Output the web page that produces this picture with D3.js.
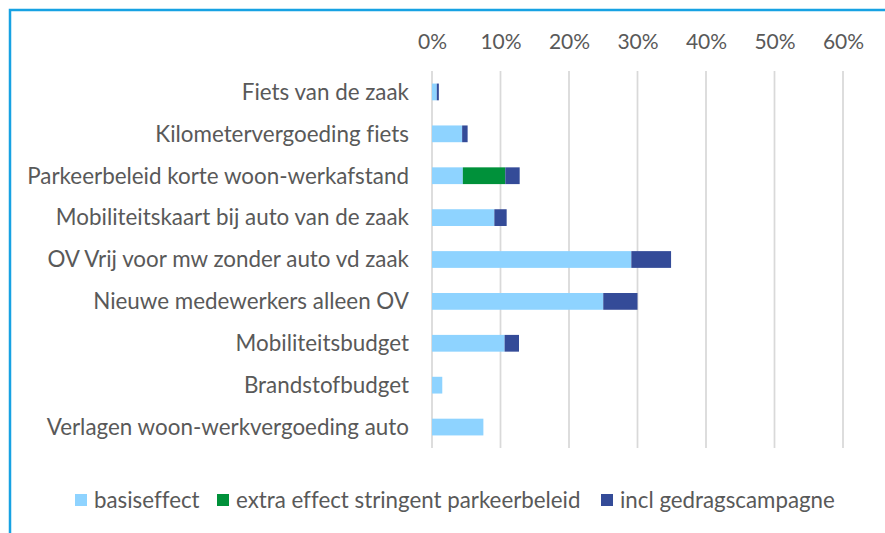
<!DOCTYPE html>
<html>
<head>
<meta charset="utf-8">
<script src="https://cdn.jsdelivr.net/npm/d3@7"></script>
<style>
  html, body { margin: 0; padding: 0; background: #fff; }
  svg text { font-family: Lato, 'Open Sans', sans-serif; fill: #595959; font-variant-ligatures: none; }
</style>
</head>
<body>
<svg id="chart" width="885" height="533"></svg>
<script>
const categories = [
  'Fiets van de zaak',
  'Kilometervergoeding fiets',
  'Parkeerbeleid korte woon-werkafstand',
  'Mobiliteitskaart bij auto van de zaak',
  'OV Vrij voor mw zonder auto vd zaak',
  'Nieuwe medewerkers alleen OV',
  'Mobiliteitsbudget',
  'Brandstofbudget',
  'Verlagen woon-werkvergoeding auto'
];
const basiseffect = [0.007, 0.044, 0.045, 0.091, 0.291, 0.250, 0.106, 0.015, 0.075];
const extraParkeer = [0, 0, 0.062, 0, 0, 0, 0, 0, 0];
const gedragscampagne = [0.003, 0.008, 0.021, 0.018, 0.058, 0.050, 0.021, 0, 0];
const seriesNames = ['basiseffect', 'extra effect stringent parkeerbeleid', 'incl gedragscampagne'];
const seriesColors = ['#8ED3FF', '#00913A', '#344B98'];
const tickValues = [0, 0.1, 0.2, 0.3, 0.4, 0.5, 0.6];

const width = 885, height = 533;
const margin = { top: 71, bottom: 448, left: 432, right: 843 };

const svg = d3.select('#chart');

// frame (left + top blue border)
svg.append('path')
  .attr('d', `M10,${height} L10,10 L${width},10`)
  .attr('fill', 'none')
  .attr('stroke', '#17A2E3')
  .attr('stroke-width', 2.5);

const data = categories.map((c, i) => ({
  cat: c,
  basiseffect: basiseffect[i],
  extra: extraParkeer[i],
  campagne: gedragscampagne[i]
}));

const keys = ['basiseffect', 'extra', 'campagne'];
const stack = d3.stack().keys(keys)(data);

const xScale = d3.scaleLinear().domain([0, 0.6]).range([margin.left, margin.right]);
const yScale = d3.scaleBand()
  .domain(categories)
  .range([margin.top, margin.bottom])
  .paddingInner(0.6)
  .paddingOuter(0.3);

// gridlines
svg.append('g')
  .selectAll('line')
  .data(tickValues)
  .join('line')
  .attr('x1', (d) => xScale(d))
  .attr('x2', (d) => xScale(d))
  .attr('y1', margin.top)
  .attr('y2', margin.bottom)
  .attr('stroke', '#D9D9D9')
  .attr('stroke-width', 1.75);

// top axis labels
const xAxis = (g) =>
  g.attr('transform', 'translate(0,42)')
    .call(d3.axisTop(xScale).tickValues(tickValues).tickFormat(d3.format('.0%')).tickSize(0).tickPadding(0));
const axisG = svg.append('g').attr('class', 'x-axis').call(xAxis);
axisG.select('.domain').remove();
axisG.selectAll('text')
  .attr('dy', '0.35em')
  .style('font-size', '21px')
  .attr('fill', '#595959');

// bars
svg.append('g')
  .selectAll('g')
  .data(stack)
  .join('g')
  .attr('fill', (d, i) => seriesColors[i])
  .selectAll('rect')
  .data((d) => d)
  .join('rect')
  .attr('x', (d) => xScale(d[0]))
  .attr('y', (d) => yScale(d.data.cat))
  .attr('width', (d) => Math.max(0, xScale(d[1]) - xScale(d[0])))
  .attr('height', yScale.bandwidth());

// category labels
svg.append('g')
  .selectAll('text')
  .data(categories)
  .join('text')
  .attr('x', 409)
  .attr('y', (d) => yScale(d) + yScale.bandwidth() / 2)
  .attr('dy', '0.35em')
  .attr('text-anchor', 'end')
  .style('font-size', '22.4px')
  .text((d) => d);

// legend
const legendX = [75, 217, 601];
const legend = svg.append('g')
  .selectAll('g')
  .data(seriesNames)
  .join('g')
  .attr('transform', (d, i) => `translate(${legendX[i]},494)`);
legend.append('rect')
  .attr('width', 12)
  .attr('height', 12)
  .attr('fill', (d, i) => seriesColors[i]);
legend.append('text')
  .attr('x', 19)
  .attr('y', 6)
  .attr('dy', '0.35em')
  .style('font-size', '22.3px')
  .text((d) => d);
</script>
</body>
</html>
